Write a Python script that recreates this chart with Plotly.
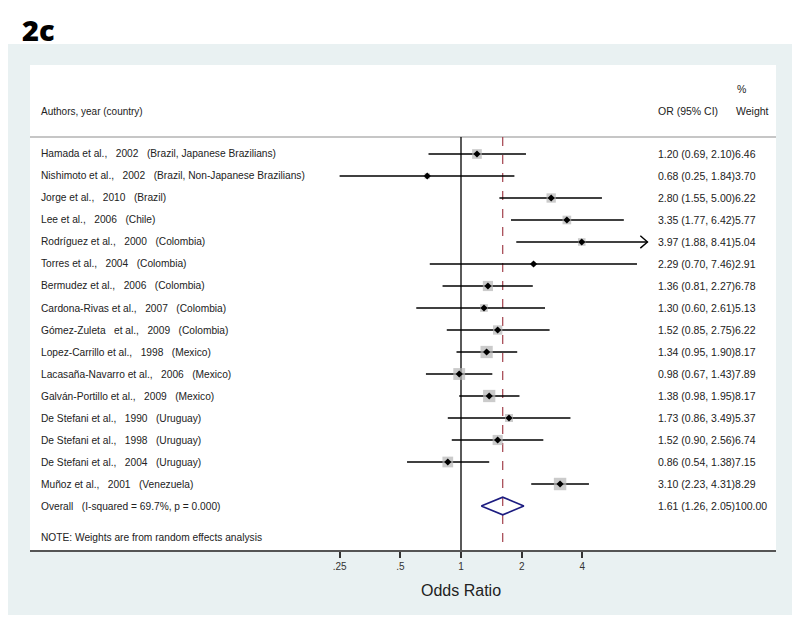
import math
import plotly.graph_objects as go

# ---------------- data ----------------
studies = [
    "Hamada et al.,  2002  (Brazil, Japanese Brazilians)",
    "Nishimoto et al.,  2002  (Brazil, Non-Japanese Brazilians)",
    "Jorge et al.,  2010  (Brazil)",
    "Lee et al.,  2006  (Chile)",
    "Rodríguez et al.,  2000  (Colombia)",
    "Torres et al.,  2004  (Colombia)",
    "Bermudez et al.,  2006  (Colombia)",
    "Cardona-Rivas et al.,  2007  (Colombia)",
    "Gómez-Zuleta  et al.,  2009  (Colombia)",
    "Lopez-Carrillo et al.,  1998  (Mexico)",
    "Lacasaña-Navarro et al.,  2006  (Mexico)",
    "Galván-Portillo et al.,  2009  (Mexico)",
    "De Stefani et al.,  1990  (Uruguay)",
    "De Stefani et al.,  1998  (Uruguay)",
    "De Stefani et al.,  2004  (Uruguay)",
    "Muñoz et al.,  2001  (Venezuela)",
]
odds_ratio = [1.20, 0.68, 2.80, 3.35, 3.97, 2.29, 1.36, 1.30, 1.52, 1.34, 0.98, 1.38, 1.73, 1.52, 0.86, 3.10]
ci_low     = [0.69, 0.25, 1.55, 1.77, 1.88, 0.70, 0.81, 0.60, 0.85, 0.95, 0.67, 0.98, 0.86, 0.90, 0.54, 2.23]
ci_high    = [2.10, 1.84, 5.00, 6.42, 8.41, 7.46, 2.27, 2.61, 2.75, 1.90, 1.43, 1.95, 3.49, 2.56, 1.38, 4.31]
weights    = [6.46, 3.70, 6.22, 5.77, 5.04, 2.91, 6.78, 5.13, 6.22, 8.17, 7.89, 8.17, 5.37, 6.74, 7.15, 8.29]

overall_label = "Overall  (I-squared = 69.7%, p = 0.000)"
overall_or, overall_low, overall_high, overall_weight = 1.61, 1.26, 2.05, 100.00
note_text = "NOTE: Weights are from random effects analysis"

tick_vals = [0.25, 0.5, 1, 2, 4]
tick_text = [".25", ".5", "1", "2", "4"]
arrow_threshold = 8  # CIs beyond this value get an arrow head

# ---------------- styling ----------------
FONT = "Liberation Sans, Arial, sans-serif"
PANEL = "#e9f1f2"
n = len(studies)
row_overall = n
row_note = n + 1.45
row_header = -1.95
row_pct = -2.95
row_hline = -0.77
y_bottom = 18.0
y_top = -4.045

def nb(s):
    return s.replace("  ", "\u00a0\u00a0\u00a0")

fig = go.Figure()

# CI lines
xs, ys = [], []
for i in range(n):
    xs += [ci_low[i], ci_high[i], None]
    ys += [i, i, None]
fig.add_trace(go.Scatter(x=xs, y=ys, mode="lines", line=dict(color="black", width=1.6),
                         hoverinfo="skip", showlegend=False))

# arrow heads for CIs running past the display range
ax, ay = [], []
for i in range(n):
    if ci_high[i] > arrow_threshold:
        back = ci_high[i] / 1.085
        ax += [back, ci_high[i], back, None]
        ay += [i - 0.28, i, i + 0.28, None]
if ax:
    fig.add_trace(go.Scatter(x=ax, y=ay, mode="lines", line=dict(color="black", width=1.4),
                             hoverinfo="skip", showlegend=False))

# weight boxes
fig.add_trace(go.Scatter(
    x=odds_ratio, y=list(range(n)), mode="markers",
    marker=dict(symbol="square", color="#b5b5b5",
                size=[1.5 * w for w in weights], line=dict(width=0)),
    hoverinfo="skip", showlegend=False))

# point estimates
fig.add_trace(go.Scatter(
    x=odds_ratio, y=list(range(n)), mode="markers",
    marker=dict(symbol="diamond", color="black", size=5.5),
    hoverinfo="skip", showlegend=False))

# overall diamond
h = 0.4
fig.add_trace(go.Scatter(
    x=[overall_low, overall_or, overall_high, overall_or, overall_low],
    y=[row_overall, row_overall - h, row_overall, row_overall + h, row_overall],
    mode="lines", line=dict(color="#1c1c80", width=1.6),
    hoverinfo="skip", showlegend=False))

shapes = [
    # outer panel
    dict(type="rect", xref="paper", yref="paper", x0=-0.0349, x1=1.0214, y0=-0.134, y1=1.0433,
         fillcolor=PANEL, line=dict(width=0), layer="below"),
    # white plot region
    dict(type="rect", xref="paper", yref="paper", x0=0, x1=1, y0=0, y1=1,
         fillcolor="white", line=dict(width=0), layer="below"),
    # header separator
    dict(type="line", xref="paper", yref="y", x0=0, x1=1, y0=row_hline, y1=row_hline,
         line=dict(color="#c6c6c6", width=2), layer="below"),
    # no-effect line
    dict(type="line", xref="x", yref="y", x0=1, x1=1, y0=row_hline, y1=y_bottom,
         line=dict(color="black", width=1.3), layer="below"),
    # overall effect dashed line
    dict(type="line", xref="x", yref="y", x0=overall_or, x1=overall_or, y0=row_hline, y1=y_bottom,
         line=dict(color="#a3404c", width=1.2, dash="dash"), layer="below"),
]

annotations = []
lab_font = dict(family=FONT, size=10.2, color="#222")
num_font = dict(family=FONT, size=10.5, color="#222")
x_left = 9 / 746
x_or = 626 / 746
x_w = 704 / 746

def add_text(text, xp, y, font=lab_font):
    annotations.append(dict(text=text, xref="paper", yref="y", x=xp, y=y,
                            xanchor="left", yanchor="middle", showarrow=False, font=font))

add_text("Authors, year (country)", x_left, row_header, dict(family=FONT, size=10, color="#222"))
add_text("OR (95% CI)", x_or, row_header, num_font)
add_text("Weight", x_w, row_header, num_font)
add_text("%", 705 / 746, row_pct, num_font)

for i in range(n):
    add_text(nb(studies[i]), x_left, i)
    add_text(f"{odds_ratio[i]:.2f} ({ci_low[i]:.2f}, {ci_high[i]:.2f}){weights[i]:.2f}", x_or, i, num_font)

add_text(nb(overall_label), x_left, row_overall)
add_text(f"{overall_or:.2f} ({overall_low:.2f}, {overall_high:.2f}){overall_weight:.2f}", x_or, row_overall, num_font)
add_text(note_text, x_left, row_note)

# title (anchored to the top edge of the figure)
annotations.append(dict(text="2c", xref="paper", yref="paper", x=-0.0134, y=1 + 57 / 485,
                        xanchor="left", yanchor="top", showarrow=False,
                        font=dict(family="Open Sans, Lato, sans-serif", size=29, color="black",
                                  weight=800)))
# axis title (annotation x on a log axis is given in log10 units)
annotations.append(dict(text="Odds Ratio", xref="x", yref="paper", x=math.log10(1), y=-0.0825,
                        xanchor="center", yanchor="middle", showarrow=False,
                        font=dict(family=FONT, size=16, color="#222")))

fig.update_layout(
    width=800, height=620,
    margin=dict(l=22, r=32, t=57, b=78),
    paper_bgcolor="white",
    plot_bgcolor="rgba(0,0,0,0)",
    shapes=shapes,
    annotations=annotations,
    xaxis=dict(type="log", range=[-2.1375, 1.5622], tickvals=tick_vals, ticktext=tick_text,
               showgrid=False, zeroline=False, showline=True, linecolor="#555", linewidth=2,
               ticks="outside", ticklen=6, tickwidth=1.5, tickcolor="#333",
               tickfont=dict(family=FONT, size=10, color="#333")),
    yaxis=dict(range=[y_bottom, y_top], visible=False, showgrid=False, zeroline=False),
    showlegend=False,
)

fig.write_html("out.html")
